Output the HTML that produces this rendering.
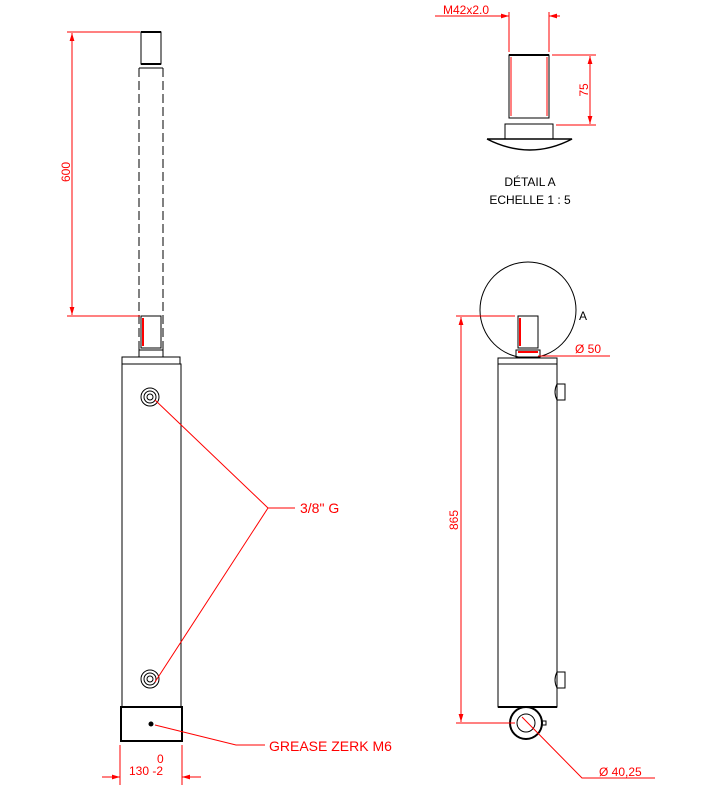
<!DOCTYPE html>
<html><head><style>body{margin:0;background:#fff}svg{display:block}</style></head><body>
<svg width="721" height="802" viewBox="0 0 721 802" xmlns="http://www.w3.org/2000/svg" font-family="Liberation Sans, sans-serif">
<defs><marker id="ar" viewBox="0 0 10 6" refX="10" refY="3" markerWidth="8" markerHeight="5" orient="auto-start-reverse"><path d="M0,0L10,3L0,6z" fill="red"/></marker></defs>
<g fill="none" stroke="#000" stroke-width="1">
<!-- left view -->
<rect x="141" y="32" width="20" height="32"/>
<line x1="141" y1="32" x2="161" y2="32" stroke-width="2"/>
<line x1="141" y1="64" x2="161" y2="64" stroke-width="2"/>
<path d="M139,68V350M163,68V350" stroke-dasharray="9,4"/>
<line x1="139" y1="68" x2="163" y2="68"/>
<rect x="141" y="316" width="20" height="32"/>
<rect x="139" y="350" width="24" height="7"/>
<rect x="122" y="357" width="58" height="7"/>
<rect x="122" y="364" width="59" height="343"/>
<rect x="121" y="707" width="61" height="34" stroke-width="2"/>
<circle cx="150" cy="397" r="9"/><circle cx="150" cy="397" r="6"/><circle cx="150" cy="397" r="3"/>
<circle cx="150" cy="679" r="9"/><circle cx="150" cy="679" r="6"/><circle cx="150" cy="679" r="3"/>
<circle cx="151" cy="724" r="2" fill="#000"/>
<!-- right view -->
<circle cx="528" cy="310" r="48"/>
<rect x="518" y="316" width="20" height="32"/>
<rect x="516" y="350" width="24" height="7"/>
<rect x="498" y="358" width="59" height="6"/>
<rect x="498" y="364" width="59" height="343"/>
<line x1="498" y1="707" x2="557" y2="707" stroke-width="2"/>
<path d="M557,384q-4,8 0,16h8v-16z"/>
<path d="M557,672q-4,8 0,16h8v-16z"/>
<circle cx="526" cy="723" r="16" stroke-width="2"/>
<circle cx="526" cy="723" r="9"/>
<path d="M542,721h4v4h-4"/>
<!-- detail A -->
<rect x="509" y="55" width="40" height="63"/>
<line x1="509" y1="55" x2="549" y2="55" stroke-width="2"/>
<line x1="510" y1="118" x2="548" y2="118"/>
<rect x="505" y="124" width="48" height="15"/>
<path d="M487,139h85q-42,22 -85,0" stroke-width="1.5"/>
</g>
<g stroke="red" fill="none" stroke-width="1">
<line x1="143" y1="318" x2="143" y2="346" stroke-width="2"/>
<line x1="520" y1="318" x2="520" y2="346" stroke-width="2"/>
<line x1="518" y1="352" x2="538" y2="352" stroke-width="2"/>
<line x1="511" y1="57" x2="511" y2="116"/>
<line x1="547" y1="57" x2="547" y2="116"/>
<!-- 600 -->
<path d="M67,32H140M67,316H140"/>
<line x1="72" y1="33" x2="72" y2="315" marker-start="url(#ar)" marker-end="url(#ar)"/>
<!-- 3/8 -->
<path d="M155,400L268,508M155,682L268,508M268,508H295"/>
<!-- grease -->
<path d="M155,725L236,745H265"/>
<!-- 130 -->
<path d="M120,745V785M182,745V785"/>
<line x1="102" y1="777" x2="120" y2="777" marker-end="url(#ar)"/>
<line x1="201" y1="777" x2="182" y2="777" marker-end="url(#ar)"/>
<!-- 865 -->
<path d="M456,316H515M456,723H515"/>
<line x1="461" y1="317" x2="461" y2="722" marker-start="url(#ar)" marker-end="url(#ar)"/>
<!-- Ø50 -->
<line x1="538" y1="356" x2="610" y2="356"/>
<!-- Ø40,25 -->
<path d="M522,717L582,778H655"/>
<!-- M42 -->
<path d="M509,12V52M549,12V52M435,16H509"/>
<line x1="498" y1="16" x2="509" y2="16" marker-end="url(#ar)"/>
<line x1="560" y1="16" x2="549" y2="16" marker-end="url(#ar)"/>
<!-- 75 -->
<path d="M552,55H596M556,125H596"/>
<line x1="590" y1="56" x2="590" y2="124" marker-start="url(#ar)" marker-end="url(#ar)"/>
</g>
<g fill="red" font-size="12">
<text transform="translate(70,172) rotate(-90)" text-anchor="middle">600</text>
<text x="300" y="513" font-size="14">3/8" G</text>
<text x="269" y="751" font-size="14">GREASE ZERK M6</text>
<text x="157" y="763">0</text>
<text x="129" y="775">130 -2</text>
<text transform="translate(458,520) rotate(-90)" text-anchor="middle">865</text>
<text x="575" y="353">Ø 50</text>
<text x="599" y="776">Ø 40,25</text>
<text x="443" y="14">M42x2.0</text>
<text transform="translate(588,90) rotate(-90)" text-anchor="middle">75</text>
</g>
<text x="579" y="320" font-size="12" fill="#000">A</text>
<text x="530" y="186" font-size="12" fill="#000" text-anchor="middle">DÉTAIL A</text>
<text x="530" y="204" font-size="12" fill="#000" text-anchor="middle">ECHELLE 1 : 5</text>
</svg>
</body></html>
